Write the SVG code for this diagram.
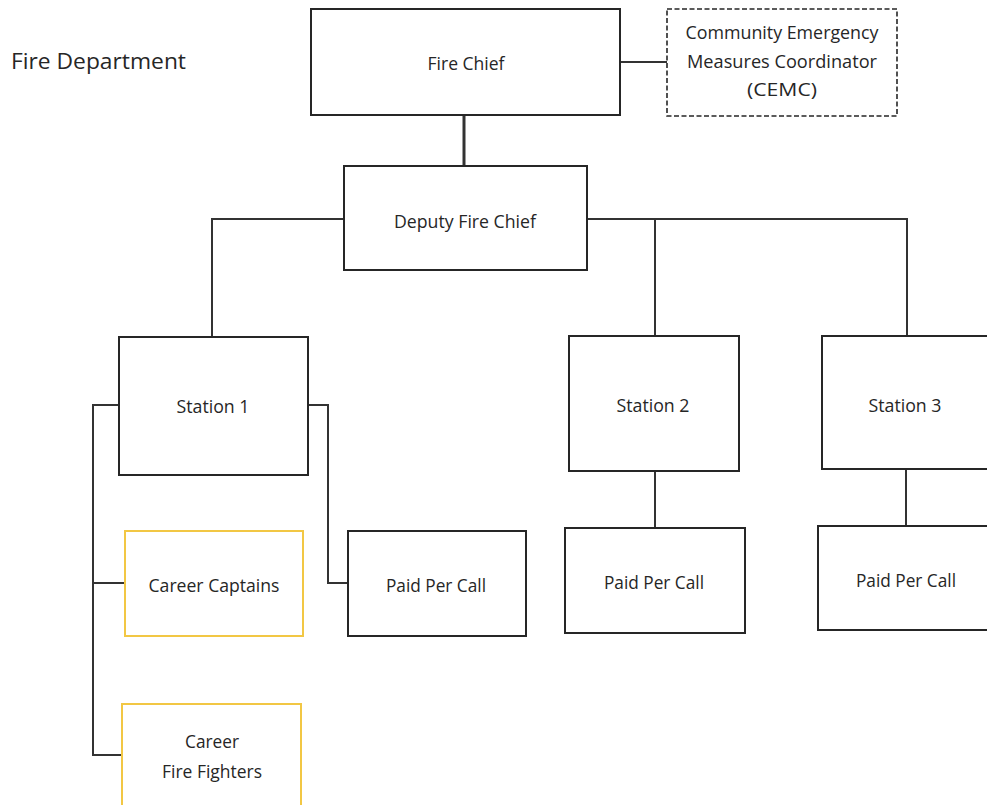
<svg xmlns="http://www.w3.org/2000/svg" width="987" height="805" viewBox="0 0 987 805">
<style>
.box{fill:#fff;stroke:#262626;stroke-width:2}
.gold{fill:#fff;stroke:#f2c744;stroke-width:2}
.dash{fill:#fff;stroke:#262626;stroke-width:1.6;stroke-dasharray:5 2.5}
.ln{fill:none;stroke:#333;stroke-width:2}
text{font-family:"Open Sans","Noto Sans","Liberation Sans",sans-serif;font-size:19px;fill:#262626;text-anchor:middle}
</style>
<rect width="987" height="805" fill="#fff"/>
<g id="connectors">
<line class="ln" x1="464" y1="115" x2="464" y2="166" style="stroke-width:3"/>
<line class="ln" x1="620" y1="62" x2="667" y2="62"/>
<polyline class="ln" points="344,219 212,219 212,337"/>
<polyline class="ln" points="587,219 907,219 907,336"/>
<line class="ln" x1="655" y1="219" x2="655" y2="336"/>
<line class="ln" x1="655" y1="471" x2="655" y2="528"/>
<line class="ln" x1="906" y1="469" x2="906" y2="526"/>
<polyline class="ln" points="119,405 93,405 93,755 122,755"/>
<line class="ln" x1="93" y1="583" x2="125" y2="583"/>
<polyline class="ln" points="308,405 328,405 328,583 348,583"/>
</g>
<g id="title"><text x="11" y="69" style="text-anchor:start;font-size:22px" textLength="175" lengthAdjust="spacingAndGlyphs">Fire Department</text></g>
<g id="fire-chief"><rect class="box" x="311" y="9" width="309" height="106"/><text x="466" y="70" textLength="77" lengthAdjust="spacingAndGlyphs">Fire Chief</text></g>
<g id="cemc"><rect class="dash" x="667" y="9" width="230" height="107"/>
<text x="782" y="39" textLength="193" lengthAdjust="spacingAndGlyphs">Community Emergency</text>
<text x="782" y="68" textLength="190" lengthAdjust="spacingAndGlyphs">Measures Coordinator</text>
<text x="782" y="96" textLength="70" lengthAdjust="spacingAndGlyphs">(CEMC)</text></g>
<g id="deputy"><rect class="box" x="344" y="166" width="243" height="104"/><text x="465" y="228" textLength="142" lengthAdjust="spacingAndGlyphs">Deputy Fire Chief</text></g>
<g id="station1"><rect class="box" x="119" y="337" width="189" height="138"/><text x="213" y="413" textLength="73" lengthAdjust="spacingAndGlyphs">Station 1</text></g>
<g id="station2"><rect class="box" x="569" y="336" width="170" height="135"/><text x="653" y="412" textLength="73" lengthAdjust="spacingAndGlyphs">Station 2</text></g>
<g id="station3"><rect class="box" x="822" y="336" width="180" height="133"/><text x="905" y="412" textLength="73" lengthAdjust="spacingAndGlyphs">Station 3</text></g>
<g id="career-captains"><rect class="gold" x="125" y="531" width="178" height="105"/><text x="214" y="592" textLength="131" lengthAdjust="spacingAndGlyphs">Career Captains</text></g>
<g id="ppc1"><rect class="box" x="348" y="531" width="178" height="105"/><text x="436" y="592" textLength="100" lengthAdjust="spacingAndGlyphs">Paid Per Call</text></g>
<g id="ppc2"><rect class="box" x="565" y="528" width="180" height="105"/><text x="654" y="589" textLength="100" lengthAdjust="spacingAndGlyphs">Paid Per Call</text></g>
<g id="ppc3"><rect class="box" x="818" y="526" width="184" height="104"/><text x="906" y="587" textLength="100" lengthAdjust="spacingAndGlyphs">Paid Per Call</text></g>
<g id="career-fire-fighters"><rect class="gold" x="122" y="704" width="179" height="120"/>
<text x="212" y="748" textLength="54" lengthAdjust="spacingAndGlyphs">Career</text>
<text x="212" y="778" textLength="100" lengthAdjust="spacingAndGlyphs">Fire Fighters</text></g>
</svg>
